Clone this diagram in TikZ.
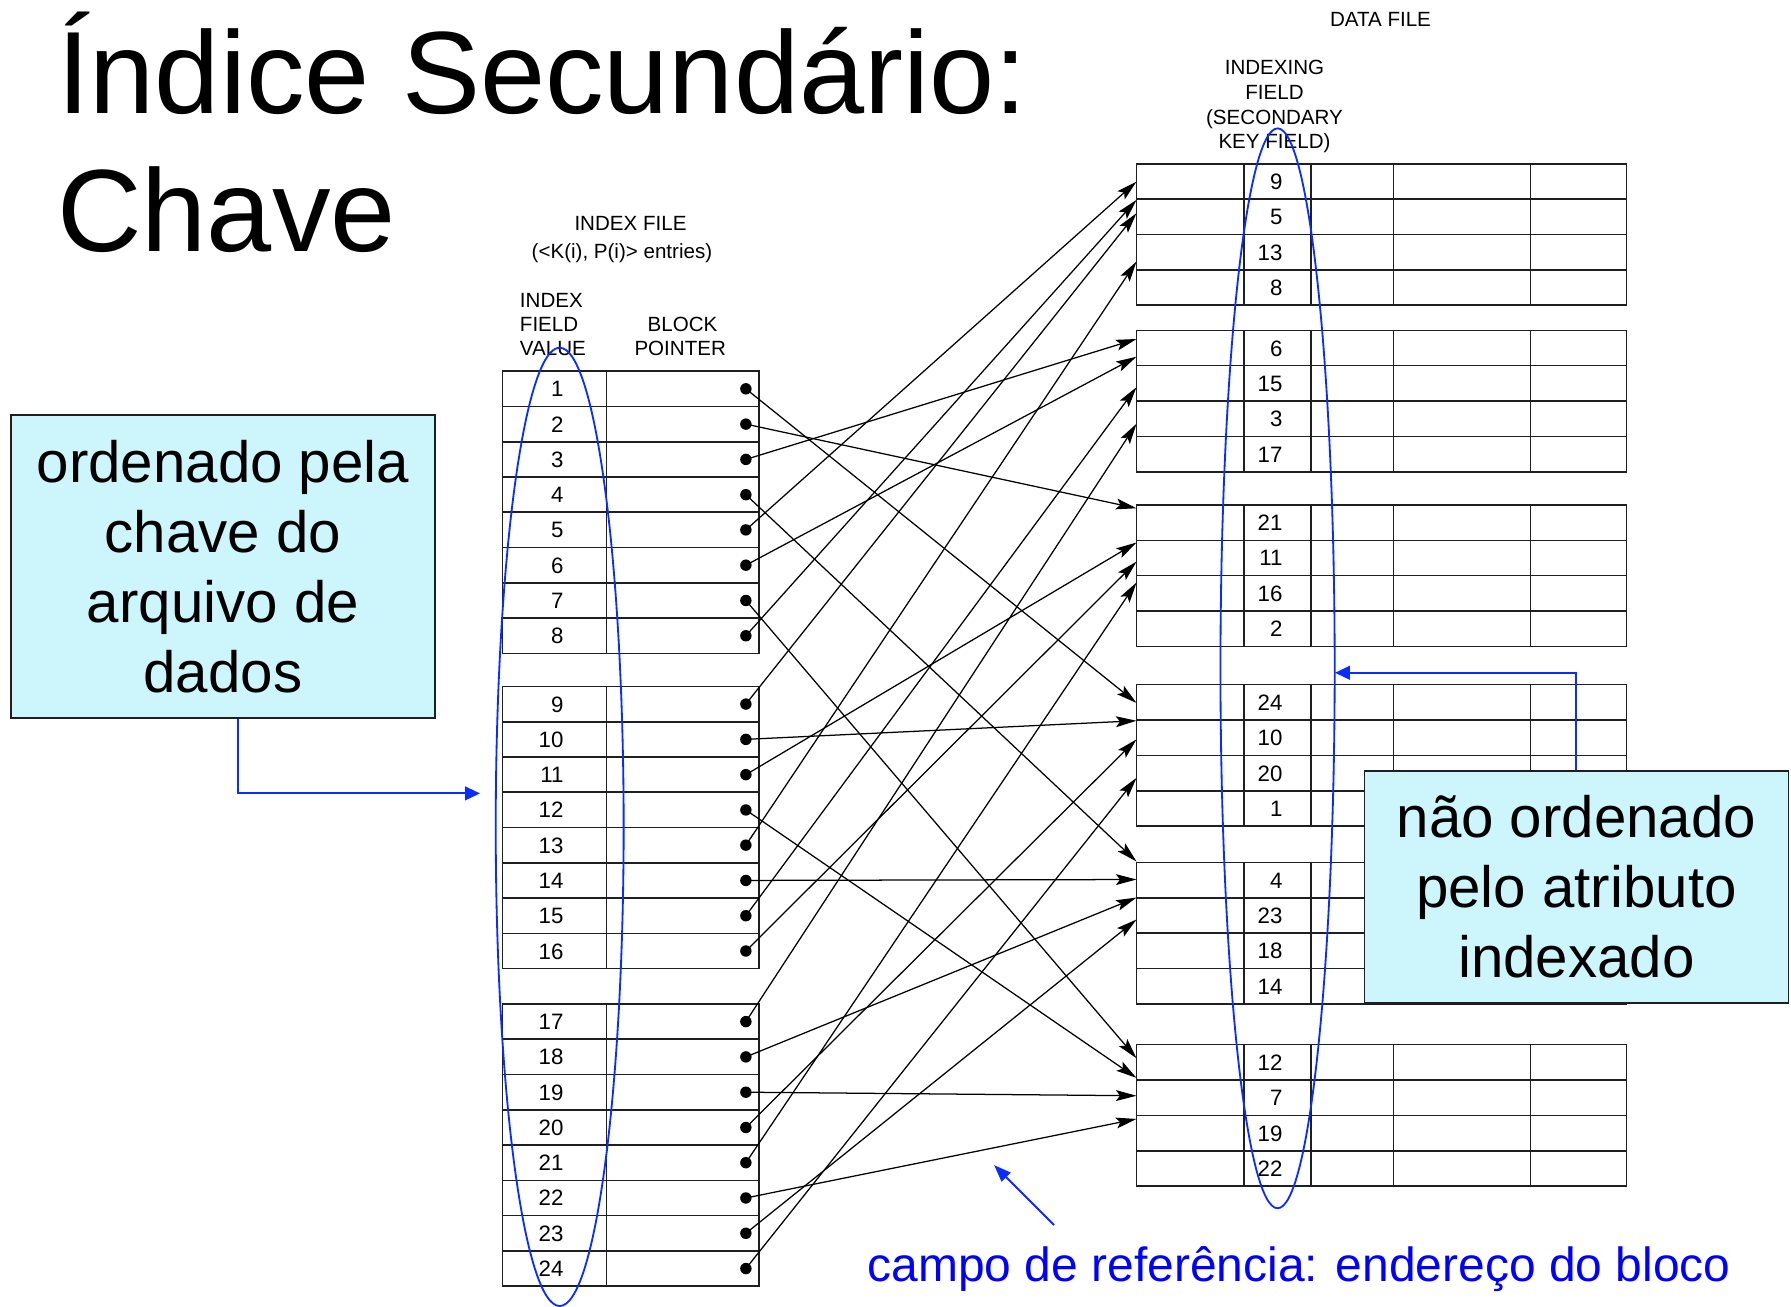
\documentclass[tikz,border=0pt]{standalone}
\usepackage{fontspec}
\setmainfont{Liberation Sans}
\usetikzlibrary{arrows.meta}
\definecolor{myblue}{RGB}{10,45,255}
\definecolor{txtblue}{RGB}{0,0,255}
\definecolor{mycyan}{RGB}{204,245,252}
\begin{document}
\begin{tikzpicture}[x=1pt,y=-1pt,
  tbl/.style={draw=black!88, line width=1.4pt},
  ptr/.style={draw=black, line width=1.1pt, -{Stealth[length=18pt,width=9.5pt,inset=3.5pt]}},
  blueln/.style={draw=myblue, line width=1.6pt},
  bluearr/.style={blueln, -{Triangle[length=13pt,width=12pt]}},
  bluearrb/.style={blueln, -{Triangle[length=15pt,width=11pt]}},
  hdr/.style={inner sep=0pt, font=\fontsize{18}{21.6}\selectfont},
  inum/.style={anchor=base east, inner sep=0pt, font=\fontsize{19.5}{20}\selectfont},
  dnum/.style={anchor=base east, inner sep=0pt, font=\fontsize{19.5}{20}\selectfont},
  titletxt/.style={anchor=base west, inner sep=0pt, font=\fontsize{102.5}{120}\selectfont},
  callout/.style={draw=black!88, line width=1.5pt, fill=mycyan, align=center, inner sep=0pt, font=\fontsize{51}{61.5}\selectfont}
]
\fill[white] (0,0) rectangle (1568,1144);
\useasboundingbox (0,0) rectangle (1568,1144);

% title
\node[titletxt] (title1) at (50,99.2) {Índice Secundário:};
\node[titletxt] (title2) at (50,220.3) {Chave};

% index file headers
\node[hdr, anchor=base] (ifile) at (552,202) {INDEX FILE};
\node[hdr, anchor=base] (ifile2) at (544.5,226.2) {(<K(i), P(i)> entries)};
\node[hdr, anchor=base west] (ifv1) at (455,269) {INDEX};
\node[hdr, anchor=base west] (ifv2) at (455,290.4) {FIELD};
\node[hdr, anchor=base west] (ifv3) at (455,311.4) {VALUE};
\node[hdr, anchor=base] (bp1) at (597.5,290.4) {BLOCK};
\node[hdr, anchor=base] (bp2) at (595.5,311.4) {POINTER};

% data file headers
\node[hdr, anchor=base] (dfile) at (1208.6,23.4) {DATA FILE};
\node[hdr, anchor=base] (dx1) at (1115.8,65.6) {INDEXING};
\node[hdr, anchor=base] (dx2) at (1115.8,87.2) {FIELD};
\node[hdr, anchor=base] (dx3) at (1115.8,108.8) {(SECONDARY};
\node[hdr, anchor=base] (dx4) at (1115.8,130.4) {KEY FIELD)};

% index tables
\foreach \tp in {325,601,879} {
  \draw[tbl] (440,\tp) rectangle (664.5,\tp+247);
  \draw[tbl] (531,\tp) -- (531,\tp+247);
  \foreach \k in {1,...,7} \draw[tbl] (440,\tp+30.875*\k) -- (664.5,\tp+30.875*\k);
}

% data tables
\foreach \tp in {143.4,289.2,442.1,599.4,755,914.6} {
  \draw[tbl] (995,\tp) rectangle (1424,\tp+123.8);
  \foreach \cx in {1089,1148,1220,1340} \draw[tbl] (\cx,\tp) -- (\cx,\tp+123.8);
  \foreach \k in {1,2,3} \draw[tbl] (995,\tp+30.95*\k) -- (1424,\tp+30.95*\k);
}

% data values
\foreach \bk/\tp/\va/\vb/\vc/\vd in {1/143.4/9/5/13/8, 2/289.2/6/15/3/17, 3/442.1/21/11/16/2, 4/599.4/24/10/20/1, 5/755/4/23/18/14, 6/914.6/12/7/19/22} {
  \node[dnum] (d\va) at (1123,\tp+22.5) {\va};
  \node[dnum] (d\vb) at (1123,\tp+53.4) {\vb};
  \node[dnum] (d\vc) at (1123,\tp+84.4) {\vc};
  \node[dnum] (d\vd) at (1123,\tp+115.3) {\vd};
}

% index values, pointers
\foreach \v/\sy/\ty in {1/340.4/615.4, 2/371.3/445, 3/402.2/296.8, 4/433.1/754.2,
  5/463.9/159, 6/494.8/312.3, 7/525.7/926.5, 8/556.6/175,
  9/616.4/186.6, 10/647.3/631, 11/678.2/475, 12/709.1/943.7,
  13/739.9/229, 14/770.8/770, 15/801.7/339, 16/832.6/491.7,
  17/894.4/371, 18/925.3/785.8, 19/956.2/959.3, 20/987.1/647.3,
  21/1017.9/510, 22/1048.8/979.6, 23/1079.7/805, 24/1110.6/681} {
  \node[inum] (iv\v) at (493.5,\sy+7) {\v};
  \coordinate (p\v) at (653,\sy);
  \coordinate (t\v) at (995,\ty);
  \draw[ptr] (p\v) -- (t\v);
  \fill[black] (p\v) circle[radius=5pt];
}

% blue ellipses
\draw[blueln] (490,723.9) ellipse [x radius=56pt, y radius=419.5pt];
\draw[blueln] (1118.5,585.1) ellipse [x radius=50pt, y radius=472.7pt];

% callouts
\node[callout, minimum width=371.2pt, minimum height=265.6pt] (lbox) at (195.2,496.1) {ordenado pela\\chave do\\arquivo de\\dados};
\node[callout, minimum width=371.2pt, minimum height=202.8pt] (rbox) at (1380.1,776.4) {não ordenado\\pelo atributo\\indexado};

\coordinate (ltip) at (420.2,694.6);
\draw[bluearr] ([xshift=12.9pt]lbox.south) |- (ltip);
\coordinate (rtip) at (1168.8,589);
\draw[bluearr] (rbox.north) |- (rtip);

% reference field note
\node[anchor=base, inner sep=0pt, text=txtblue, font=\fontsize{42}{50}\selectfont] (ref) at (1137.3,1122) {campo de referência: endereço do bloco};
\coordinate (btail) at (922.8,1072.5);
\coordinate (bhead) at (870.3,1020);
\draw[bluearrb] (btail) -- (bhead);
\end{tikzpicture}
\end{document}
